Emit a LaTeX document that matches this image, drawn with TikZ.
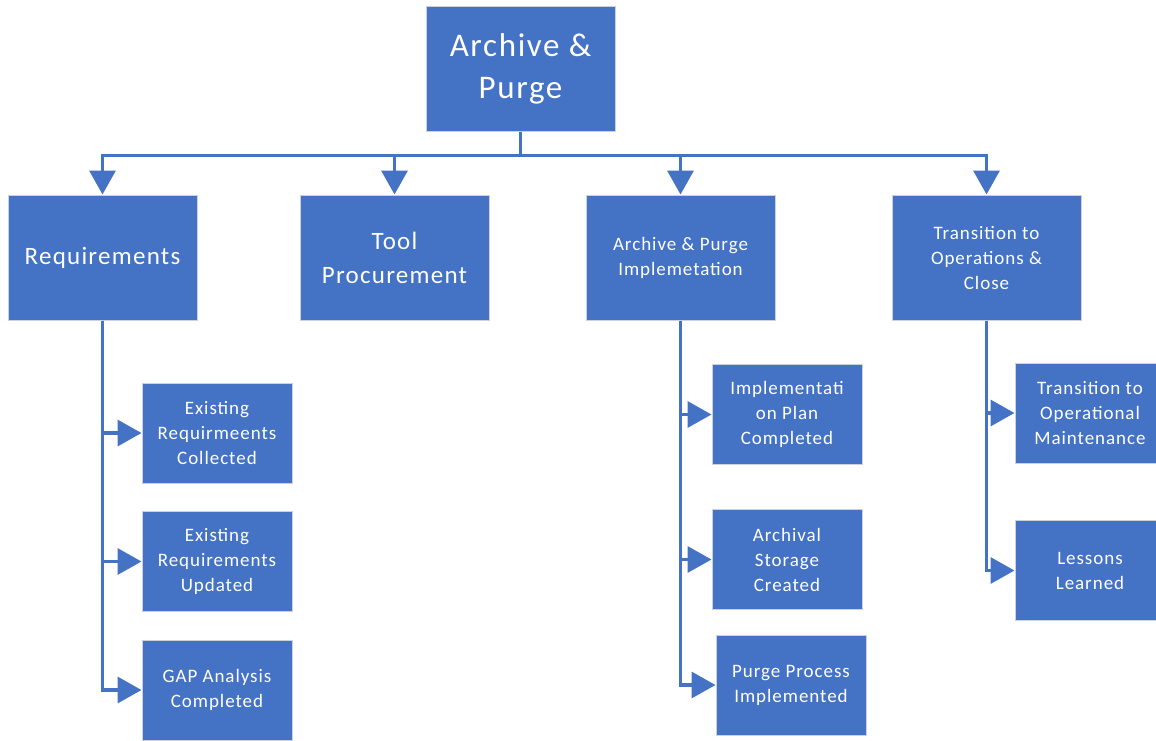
\documentclass[tikz,border=0pt]{standalone}
\usepackage{fontspec}
\setmainfont{Carlito}[LetterSpace=5.0]
\usetikzlibrary{arrows.meta}
\newlength{\du}
\setlength{\du}{1pt}

\begin{document}
\begin{tikzpicture}
\pgftransformxscale{1.000000}
\pgftransformyscale{-1.000000}
\definecolor{boxcolor}{rgb}{0.266667, 0.447059, 0.768627}
\definecolor{edgecolor}{rgb}{0.800000, 0.820000, 0.860000}
\tikzset{
  wbsbox/.style={draw=edgecolor, line width=1\du, fill=boxcolor, text=white,
    align=center, inner sep=0pt, minimum width=189\du, minimum height=125\du},
  wbsleaf/.style={wbsbox, minimum width=150\du, minimum height=100\du,
    font=\fontsize{19}{25}\selectfont},
  wbsline/.style={draw=boxcolor, line width=3.5\du,
    -{Triangle[length=24pt, width=26pt]}}
}
\useasboundingbox (0\du,0\du) rectangle (1156\du,740\du);
% level 1
\node[wbsbox, font=\fontsize{33}{42}\selectfont] (top) at (520.500000\du,68.500000\du) {Archive \&\\Purge};
% level 2
\node[wbsbox, font=\fontsize{25}{34}\selectfont] (req) at (102.500000\du,257.500000\du) {Requirements};
\node[wbsbox, font=\fontsize{25}{34}\selectfont] (tool) at (394.500000\du,257.500000\du) {Tool\\Procurement};
\node[wbsbox, font=\fontsize{19}{25}\selectfont] (impl) at (680.500000\du,257.500000\du) {Archive \& Purge\\Implemetation};
\node[wbsbox, font=\fontsize{19}{25}\selectfont] (trans) at (986.500000\du,257.500000\du) {Transition to\\Operations \&\\Close};
% level 3
\node[wbsleaf] (collect) at (217.000000\du,433.000000\du) {Existing\\Requirmeents\\Collected};
\node[wbsleaf] (update) at (217.000000\du,561.500000\du) {Existing\\Requirements\\Updated};
\node[wbsleaf] (gap) at (217.000000\du,690.000000\du) {GAP Analysis\\Completed};
\node[wbsleaf] (plan) at (787.000000\du,414.500000\du) {Implementati\\on Plan\\Completed};
\node[wbsleaf] (store) at (787.000000\du,559.500000\du) {Archival\\Storage\\Created};
\node[wbsleaf] (purge) at (791.000000\du,685.000000\du) {Purge Process\\Implemented};
\node[wbsleaf] (opmaint) at (1090.000000\du,413.000000\du) {Transition to\\Operational\\Maintenance};
\node[wbsleaf] (lessons) at (1090.000000\du,570.500000\du) {Lessons\\Learned};
% connectors
\draw[wbsline] (top.south) -- ++(0pt,24pt) -| (req.north);
\draw[wbsline] (top.south) -- ++(0pt,24pt) -| (tool.north);
\draw[wbsline] (top.south) -- ++(0pt,24pt) -| (impl.north);
\draw[wbsline] (top.south) -- ++(0pt,24pt) -| (trans.north);
\draw[wbsline] (req.south) |- (collect.west);
\draw[wbsline] (req.south) |- (update.west);
\draw[wbsline] (req.south) |- (gap.west);
\draw[wbsline] (impl.south) |- (plan.west);
\draw[wbsline] (impl.south) |- (store.west);
\draw[wbsline] (impl.south) |- (purge.west);
\draw[wbsline] (trans.south) |- (opmaint.west);
\draw[wbsline] (trans.south) |- (lessons.west);
\end{tikzpicture}
\end{document}
